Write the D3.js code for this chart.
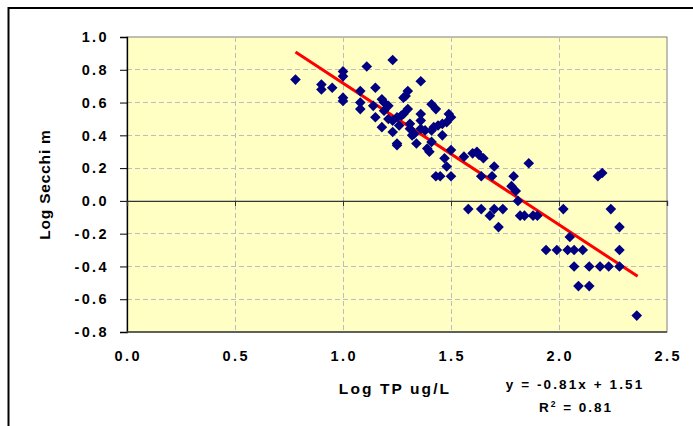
<!DOCTYPE html>
<html>
<head>
<meta charset="utf-8">
<script src="https://cdn.jsdelivr.net/npm/d3@7"></script>
<style>
  html, body { margin: 0; padding: 0; background: #ffffff; }
  svg { display: block; }
  text { font-family: "Liberation Sans", Arial, sans-serif; font-weight: bold; fill: #000; }
</style>
</head>
<body>
<svg id="chart" width="693" height="426"></svg>
<script>
// ---------- data ----------
const logTP = [
  0.78, 0.90, 0.90, 0.95, 1.00, 1.00, 1.00, 1.00, 1.11, 1.23,
  1.08, 1.08, 1.08, 1.15, 1.14, 1.15, 1.18, 1.19, 1.21, 1.18,
  1.21, 1.23, 1.25, 1.19, 1.23, 1.25, 1.25, 1.26, 1.27, 1.28,
  1.29, 1.30, 1.30, 1.28, 1.31, 1.31, 1.33, 1.32, 1.34, 1.36,
  1.36, 1.36, 1.36, 1.38, 1.39, 1.40, 1.41, 1.43, 1.41, 1.42,
  1.44, 1.46, 1.46, 1.47, 1.48, 1.43, 1.45, 1.50, 1.49, 1.50,
  1.48, 1.50, 1.41, 1.56, 1.60, 1.62, 1.63, 1.65, 1.64, 1.58,
  1.64, 1.69, 1.70, 1.68, 1.70, 1.72, 1.74, 1.79, 1.78, 1.80,
  1.81, 1.82, 1.84, 1.86, 1.88, 1.90, 1.94, 1.99, 2.02, 2.04,
  2.05, 2.07, 2.07, 2.09, 2.11, 2.14, 2.14, 2.18, 2.20, 2.19,
  2.23, 2.24, 2.28, 2.28, 2.28, 2.36
];
const logSecchi = [
  0.74, 0.71, 0.68, 0.69, 0.79, 0.76, 0.63, 0.61, 0.82, 0.86,
  0.67, 0.60, 0.56, 0.69, 0.58, 0.51, 0.62, 0.60, 0.58, 0.45,
  0.50, 0.49, 0.51, 0.55, 0.42, 0.35, 0.34, 0.46, 0.52, 0.63,
  0.64, 0.67, 0.56, 0.53, 0.47, 0.44, 0.41, 0.40, 0.35, 0.73,
  0.53, 0.49, 0.44, 0.43, 0.32, 0.30, 0.59, 0.56, 0.43, 0.45,
  0.46, 0.47, 0.40, 0.26, 0.21, 0.15, 0.15, 0.15, 0.53, 0.51,
  0.48, 0.31, 0.36, 0.27, 0.29, 0.30, 0.28, 0.26, 0.15, -0.05,
  -0.05, 0.15, 0.21, -0.09, -0.05, -0.16, -0.05, 0.15, 0.09, 0.06,
  0.00, -0.09, -0.09, 0.23, -0.09, -0.09, -0.30, -0.30, -0.05, -0.30,
  -0.22, -0.30, -0.40, -0.52, -0.30, -0.52, -0.40, 0.15, 0.17, -0.40,
  -0.40, -0.05, -0.16, -0.30, -0.40, -0.70
];
const trendX = [0.78, 2.364];
const trendY = [0.909, -0.46];
const xTicks = [0.0, 0.5, 1.0, 1.5, 2.0, 2.5];
const yTicks = [-0.8, -0.6, -0.4, -0.2, 0.0, 0.2, 0.4, 0.6, 0.8, 1.0];
const xTitle = "Log TP ug/L";
const yTitle = "Log Secchi m";
const eqLine1 = "y = -0.81x + 1.51";
const eqR2 = "0.81";

// ---------- layout ----------
const svg = d3.select("#chart");
const L = 127, R = 667, T = 37, B = 332;
const x = d3.scaleLinear().domain([0, 2.5]).range([L, R]);
const y = d3.scaleLinear().domain([-0.8, 1.0]).range([B, T]);
const fmt = d => d.toFixed(1);

// outer chart border
svg.append("rect")
  .attr("x", 8.5).attr("y", 8).attr("width", 720).attr("height", 440)
  .attr("fill", "none").attr("stroke", "#000").attr("stroke-width", 2);

// plot area
svg.append("rect")
  .attr("x", L).attr("y", T).attr("width", R - L).attr("height", B - T)
  .attr("fill", "#FFFFC4").attr("stroke", "#808080").attr("stroke-width", 1);

// gridlines
const grid = svg.append("g").attr("stroke", "#bdbdbd").attr("stroke-width", 1)
  .attr("stroke-dasharray", "5,3").attr("shape-rendering", "crispEdges");
grid.selectAll("line.h").data(yTicks.filter(v => v !== 0 && v !== -0.8 && v !== 1.0))
  .join("line").attr("class", "h")
  .attr("x1", L).attr("x2", R).attr("y1", d => y(d)).attr("y2", d => y(d));
grid.selectAll("line.v").data(xTicks.filter(v => v !== 0 && v !== 2.5))
  .join("line").attr("class", "v")
  .attr("y1", T).attr("y2", B).attr("x1", d => x(d)).attr("x2", d => x(d));

// y axis
const yAxis = svg.append("g").attr("transform", `translate(${L},0)`)
  .call(d3.axisLeft(y).tickValues(yTicks).tickSize(7).tickFormat(""));
yAxis.select(".domain").attr("stroke", "#000").attr("stroke-width", 1.3);
yAxis.selectAll(".tick line").attr("stroke", "#000");

svg.append("g").selectAll("text").data(yTicks).join("text")
  .attr("x", 109).attr("y", d => y(d)).attr("dy", "0.36em")
  .attr("text-anchor", "end")
  .style("font-size", "14.5px").style("letter-spacing", "2.4px")
  .text(fmt);

// bottom frame line
svg.append("line").attr("x1", L).attr("x2", R).attr("y1", B).attr("y2", B)
  .attr("stroke", "#404040").attr("stroke-width", 1.3);

// x axis through zero
const xAxis = svg.append("g").attr("transform", `translate(0,${y(0)})`)
  .call(d3.axisBottom(x).tickValues(xTicks).tickSize(5).tickFormat(""));
xAxis.select(".domain").attr("stroke", "#333").attr("stroke-width", 1.3);
xAxis.selectAll(".tick line").attr("stroke", "#333");

// x tick labels at bottom
svg.append("g").selectAll("text").data(xTicks).join("text")
  .attr("x", d => x(d) + 1.2).attr("y", 361)
  .attr("text-anchor", "middle")
  .style("font-size", "14.5px").style("letter-spacing", "2.4px")
  .text(fmt);

// trend line
const trend = trendX.map((v, i) => [v, trendY[i]]);
svg.append("path").datum(trend)
  .attr("d", d3.line().x(d => x(d[0])).y(d => y(d[1])))
  .attr("stroke", "#FF0000").attr("stroke-width", 3).attr("fill", "none");

// points
const pts = logTP.map((v, i) => [v, logSecchi[i]]);
const diamond = "M0,-5.3L5.3,0L0,5.3L-5.3,0Z";
svg.append("g").selectAll("path").data(pts).join("path")
  .attr("transform", d => `translate(${x(d[0])},${y(d[1])})`)
  .attr("d", diamond).attr("fill", "#000080");

// axis titles
svg.append("text")
  .attr("transform", `translate(50,${(T + B) / 2}) rotate(-90)`)
  .attr("text-anchor", "middle")
  .style("font-size", "15.5px").style("letter-spacing", "0.8px")
  .text(yTitle);

svg.append("text")
  .attr("x", (L + R) / 2 - 2).attr("y", 394)
  .attr("text-anchor", "middle")
  .style("font-size", "15.5px").style("letter-spacing", "2.1px")
  .text(xTitle);

// equation
svg.append("text")
  .attr("x", 575).attr("y", 389).attr("text-anchor", "middle")
  .style("font-size", "13.5px").style("letter-spacing", "2.1px")
  .text(eqLine1);
const r2 = svg.append("text")
  .attr("x", 576).attr("y", 412).attr("text-anchor", "middle")
  .style("font-size", "13.5px").style("letter-spacing", "2px");
r2.append("tspan").text("R");
r2.append("tspan").attr("dy", -5).style("font-size", "8.5px").text("2");
r2.append("tspan").attr("dy", 5).text(" = " + eqR2);
</script>
</body>
</html>
